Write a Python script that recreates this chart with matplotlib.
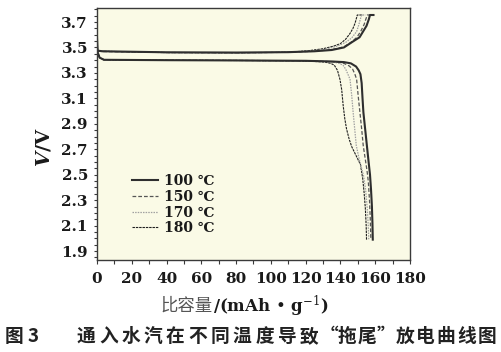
import matplotlib
matplotlib.use("Agg")
import matplotlib.pyplot as plt
from matplotlib.ticker import MultipleLocator, FixedLocator
from matplotlib.font_manager import FontProperties

# ---------------- data ----------------
temps = ["100", "150", "170", "180"]

charge_x_100 = [0.3, 3, 40, 80, 110, 125, 135, 142, 147, 151, 153, 155, 156.3, 157.0, 159]
charge_v_100 = [3.475, 3.47, 3.462, 3.46, 3.463, 3.47, 3.48, 3.50, 3.545, 3.58, 3.625, 3.67, 3.72, 3.755, 3.755]
charge_x_150 = [0.3, 3, 40, 80, 110, 125, 135, 142, 146, 149.5, 151.8, 153.6, 154.8, 155.5, 157.5]
charge_v_150 = [3.475, 3.468, 3.46, 3.458, 3.462, 3.47, 3.483, 3.505, 3.54, 3.58, 3.63, 3.68, 3.73, 3.755, 3.755]
charge_x_170 = [0.3, 3, 40, 80, 110, 125, 132, 138, 143, 146.5, 149.3, 150.6, 151.6, 152.2, 154.5]
charge_v_170 = [3.475, 3.47, 3.46, 3.458, 3.462, 3.472, 3.488, 3.51, 3.54, 3.575, 3.625, 3.68, 3.73, 3.755, 3.755]
charge_x_180 = [0.3, 3, 40, 80, 110, 122, 130, 136, 140, 143, 145.5, 147.2, 148.4, 149.7, 153]
charge_v_180 = [3.475, 3.47, 3.46, 3.458, 3.462, 3.475, 3.49, 3.51, 3.53, 3.565, 3.61, 3.65, 3.69, 3.755, 3.755]

dis_x_100 = [0, 0.4, 1.5, 4, 40, 80, 120, 135, 142, 146, 149, 150.5, 151.5, 152.2, 152.7, 153.2,
             154.2, 155.2, 156.2, 157.0, 157.6, 158.1, 158.4, 158.6]
dis_v_100 = [3.58, 3.46, 3.42, 3.403, 3.40, 3.398, 3.395, 3.39, 3.385, 3.375, 3.35, 3.32, 3.29, 3.22, 3.10, 2.99,
             2.86, 2.73, 2.60, 2.50, 2.38, 2.25, 2.12, 1.99]
dis_x_150 = [0, 0.4, 1.5, 4, 40, 80, 120, 132, 138, 142, 145, 147, 148.3, 149.3, 150.2, 151.2, 152.2,
             153.1, 154.3, 155.3, 156.0, 156.7, 157.2, 157.5]
dis_v_150 = [3.58, 3.46, 3.42, 3.403, 3.40, 3.398, 3.395, 3.39, 3.385, 3.375, 3.355, 3.33, 3.29, 3.25, 3.12, 2.99, 2.86,
             2.73, 2.62, 2.53, 2.45, 2.30, 2.14, 1.99]
dis_x_170 = [0, 0.4, 1.5, 4, 40, 80, 120, 130, 136, 139.5, 141.5, 143, 144.3, 145.5, 146.5, 147.3, 148.2,
             149.1, 150.5, 152, 153.3, 154.5, 155.4, 156.0, 156.3]
dis_v_170 = [3.58, 3.46, 3.42, 3.403, 3.40, 3.398, 3.395, 3.39, 3.385, 3.375, 3.36, 3.33, 3.29, 3.25, 3.12, 2.99, 2.86,
             2.73, 2.64, 2.56, 2.49, 2.38, 2.24, 2.10, 1.99]
dis_x_180 = [0, 0.4, 1.5, 4, 40, 80, 115, 125, 131, 134.5, 136.5, 138.3, 139.7, 140.7, 141.6, 142.5, 143.5,
             145, 146.5, 149, 151.5, 152.8, 153.6, 154.3, 154.8, 155.0]
dis_v_180 = [3.58, 3.46, 3.42, 3.403, 3.40, 3.398, 3.395, 3.39, 3.385, 3.375, 3.36, 3.32, 3.25, 3.17, 3.04, 2.94, 2.86,
             2.78, 2.72, 2.65, 2.58, 2.47, 2.36, 2.24, 2.10, 1.99]

x_ticks = [0, 20, 40, 60, 80, 100, 120, 140, 160, 180]
y_ticks = [1.9, 2.1, 2.3, 2.5, 2.7, 2.9, 3.1, 3.3, 3.5, 3.7]
y_tick_labels = ["1.9", "2.1", "2.3", "2.5", "2.7", "2.9", "3.1", "3.3", "3.5", "3.7"]

x_label_cn = "比容量"
x_label_unit = r"/(mAh • g$^{-1}$)"
caption = "图3通入水汽在不同温度导致“拖尾”放电曲线图"

# ---------------- styles ----------------
styles = {
    "100": dict(color="#2e2e2e", lw=1.5, ls="-"),
    "150": dict(color="#555555", lw=0.9, ls=(0, (3.0, 1.6))),
    "170": dict(color="#a0a0a0", lw=0.9, ls=(0, (1.2, 0.9))),
    "180": dict(color="#1e1e1e", lw=0.8, ls=(0, (2.2, 0.8))),
}

plt.rcParams["mathtext.fontset"] = "dejavuserif"

fig = plt.figure(figsize=(5.02, 3.52), dpi=100)
W, H = 502, 352
ax = fig.add_axes([97 / W, 1 - 260 / H, (410 - 97) / W, (260 - 8) / H])
ax.set_facecolor("#fafae6")

charges = {"100": (charge_x_100, charge_v_100), "150": (charge_x_150, charge_v_150),
           "170": (charge_x_170, charge_v_170), "180": (charge_x_180, charge_v_180)}
discharges = {"100": (dis_x_100, dis_v_100), "150": (dis_x_150, dis_v_150),
              "170": (dis_x_170, dis_v_170), "180": (dis_x_180, dis_v_180)}

handles = []
for t in ["180", "170", "150", "100"]:
    st = styles[t]
    cx, cv = charges[t]
    dx, dv = discharges[t]
    ax.plot(cx, cv, **st)
    ax.plot(dx, dv, **st)
for t in temps:
    h, = ax.plot([], [], **styles[t], label=f"{t} ℃")
    handles.append(h)

ax.set_xlim(0, 180)
ax.set_ylim(1.83, 3.81)
ax.xaxis.set_major_locator(FixedLocator(x_ticks))
ax.xaxis.set_minor_locator(MultipleLocator(10))
ax.yaxis.set_major_locator(FixedLocator(y_ticks))
ax.set_yticklabels(y_tick_labels)
ax.yaxis.set_minor_locator(MultipleLocator(0.05))

for sp in ax.spines.values():
    sp.set_color("#3a3a3a")
    sp.set_linewidth(1.0)

ax.tick_params(axis="x", which="both", direction="out", length=3.2, width=0.8, color="#3a3a3a", pad=5.5)
ax.tick_params(axis="y", which="both", direction="out", length=2.5, width=0.8, color="#3a3a3a", pad=4.0)
for lab in ax.get_xticklabels() + ax.get_yticklabels():
    lab.set_fontfamily("DejaVu Serif")
    lab.set_fontweight("bold")
    lab.set_fontsize(11)
    lab.set_color("#1a1a1a")

# legend
leg_prop = FontProperties(family=["DejaVu Serif", "Noto Sans CJK SC"], weight="bold", size=10)
leg = ax.legend(handles=handles, loc="upper left", bbox_to_anchor=(0.112, 0.34),
                frameon=False, prop=leg_prop, handlelength=1.9, handletextpad=0.4,
                labelspacing=0.12, borderpad=0, borderaxespad=0)
for txt in leg.get_texts():
    txt.set_color("#1a1a1a")

# y label
fig.text(44 / W, 1 - 147 / H, r"$\mathbfit{V}\mathbf{/V}$", rotation=90, ha="center", va="center",
         fontsize=14, color="#1a1a1a")

# x label
fig.text(213 / W, 1 - 306 / H, x_label_cn, ha="right", va="center", fontsize=12.5,
         family="Noto Sans CJK SC", color="#555555")
fig.text(213 / W, 1 - 306 / H, x_label_unit, ha="left", va="center", fontsize=12,
         family="DejaVu Serif", weight="bold", color="#1a1a1a")

# caption: place each character (x position in px, horizontal alignment)
places = [(14.5, "center"), (33.5, "center")]
places += [(75 + 11.15 + 22.3 * i, "center") for i in range(11)]
places += [(338, "right"), (347, "center"), (367.5, "center"), (377, "left")]
places += [(395 + 10.2 + 20.4 * i, "center") for i in range(5)]
for ch, (cx, ha) in zip(caption, places):
    fig.text(cx / W, 1 - 336.5 / H, ch, ha=ha, va="center", fontsize=13.5,
             family="Noto Sans CJK SC", weight="bold", color="#222222")

fig.savefig("out.png", dpi=100, facecolor="white")
